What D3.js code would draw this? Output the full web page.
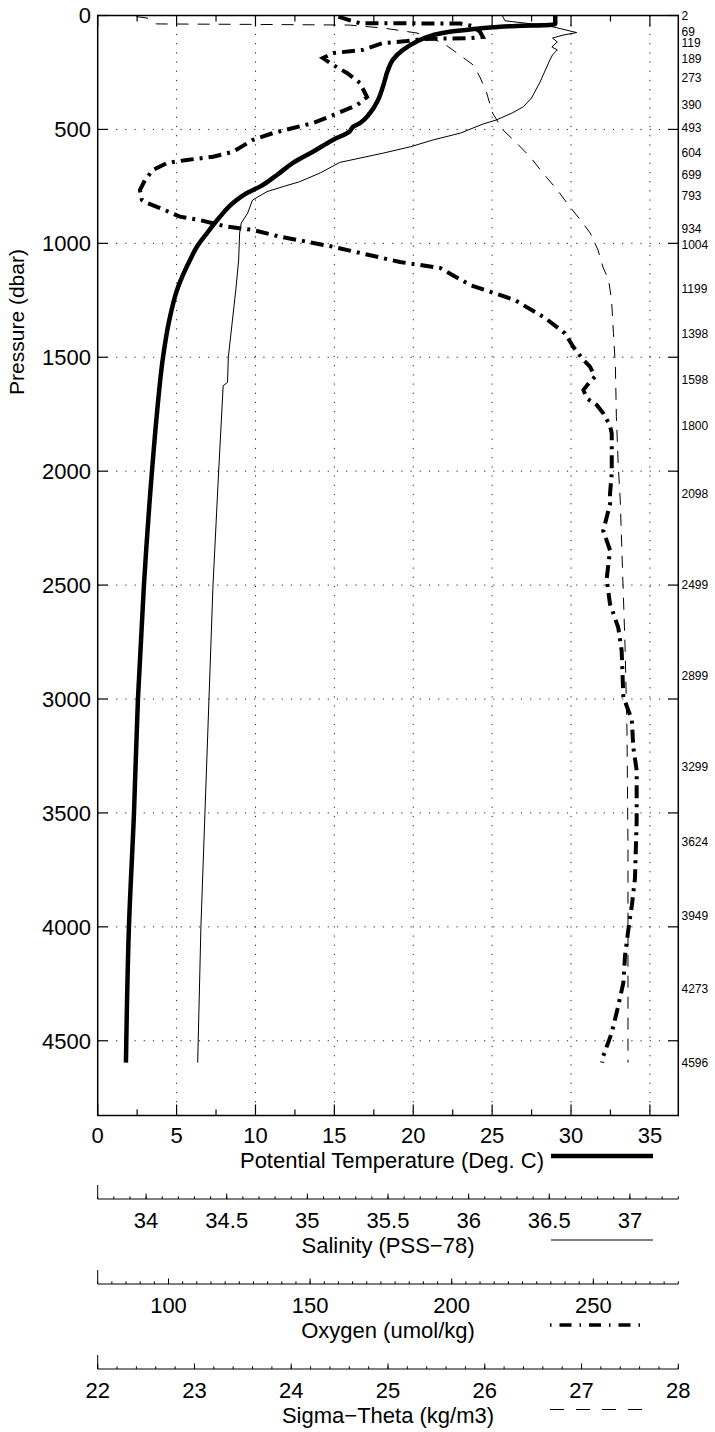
<!DOCTYPE html>
<html>
<head>
<meta charset="utf-8">
<script src="https://cdn.jsdelivr.net/npm/d3@7"></script>
<style>
body { margin: 0; background: #fff; }
text { font-family: "Liberation Sans", Arial, Helvetica, sans-serif; fill: #000; }
</style>
</head>
<body>
<div id="chart"></div>
<script>
// ---- data ----
// potential temperature (deg C) vs pressure (dbar)
var tempPres = [2, 37, 42, 46, 52, 61, 71, 86, 115, 151, 195, 239, 312, 371, 428, 472, 488, 510, 546, 598, 647, 700, 751, 779, 823, 883, 955, 1015, 1073, 1200, 1350, 1500, 1750, 2000, 2500, 3000, 3500, 4000, 4596];
var tempVals = [29.0, 29.0, 28.66, 26.55, 25.05, 23.6, 22.3, 21.25, 20.2, 19.35, 18.7, 18.4, 18.08, 17.77, 17.26, 16.62, 16.2, 15.95, 14.91, 13.64, 12.38, 11.36, 10.29, 9.46, 8.57, 7.75, 6.93, 6.29, 5.85, 5.05, 4.5, 4.14, 3.75, 3.44, 2.93, 2.55, 2.30, 1.98, 1.79];

// salinity (PSS-78)
var salPres = [2, 23, 46, 75, 86, 99, 116, 138, 151, 173, 195, 296, 362, 400, 428, 459, 476, 516, 546, 576, 604, 645, 691, 730, 751, 773, 810, 867, 911, 955, 1073, 1200, 1500, 1610, 1625, 2000, 2500, 3000, 3500, 4000, 4596];
var salVals = [36.21, 36.225, 36.50, 36.67, 36.585, 36.52, 36.55, 36.516, 36.55, 36.52, 36.504, 36.44, 36.39, 36.34, 36.27, 36.17, 36.09, 35.95, 35.78, 35.64, 35.47, 35.2, 35.08, 34.95, 34.85, 34.75, 34.66, 34.63, 34.59, 34.58, 34.574, 34.557, 34.51, 34.505, 34.478, 34.45, 34.415, 34.39, 34.365, 34.34, 34.32];

// oxygen (umol/kg)
var oxyPres = [5, 24, 34, 35, 46, 72, 94, 99, 103, 112, 121, 151, 165, 187, 217, 252, 296, 358, 393, 437, 472, 494, 516, 546, 598, 620, 634, 647, 678, 722, 766, 810, 823, 845, 883, 898, 927, 941, 971, 993, 1015, 1042, 1082, 1108, 1183, 1249, 1328, 1395, 1454, 1512, 1541, 1585, 1607, 1644, 1680, 1710, 1746, 1797, 1834, 1907, 2009, 2097, 2144, 2262, 2347, 2474, 2584, 2686, 2788, 2991, 3092, 3211, 3313, 3533, 3787, 3906, 4008, 4126, 4245, 4347, 4465, 4567, 4596];
var oxyVals = [160, 164.8, 167.6, 203, 207.2, 210, 211, 206.5, 189.9, 184.2, 175.7, 168.6, 158.1, 154.5, 158.1, 163, 167.6, 170.1, 166.6, 158.1, 151, 144, 136.9, 129.8, 122.8, 115.7, 106.5, 99.5, 94.5, 91.7, 89.9, 90.6, 92.4, 97, 104, 111.1, 120.7, 129.8, 139.4, 148.9, 158.1, 167.6, 181.7, 195.9, 206.5, 222.3, 233, 240, 242.9, 246.5, 248.8, 250.6, 248.8, 246.5, 247.7, 251.2, 253.5, 255.8, 256.5, 256.5, 256.5, 255.9, 255.9, 253.5, 255.9, 254.7, 255.9, 258.8, 260, 260.6, 263.6, 264.1, 265.3, 265.3, 264.7, 263.6, 262.4, 261.2, 260.6, 258.8, 256.5, 253.5, 253.1];

// sigma-theta (kg/m3)
var sigPres = [5, 11, 28, 37, 39, 42, 55, 77, 121, 173, 217, 270, 340, 428, 503, 560, 621, 691, 766, 840, 898, 955, 1029, 1103, 1161, 1249, 1395, 1541, 1761, 1980, 2127, 2516, 2770, 3144, 3652, 4194, 4596];
var sigVals = [22.40, 22.51, 22.57, 22.61, 23.57, 24.60, 24.95, 25.30, 25.57, 25.74, 25.88, 25.95, 26.02, 26.08, 26.19, 26.33, 26.47, 26.60, 26.75, 26.88, 26.99, 27.09, 27.17, 27.22, 27.28, 27.31, 27.33, 27.35, 27.36, 27.38, 27.40, 27.43, 27.45, 27.47, 27.48, 27.48, 27.48];

// bottle depths printed down the right side
var bottleDepths = [2, 69, 119, 189, 273, 390, 493, 604, 699, 793, 934, 1004, 1199, 1398, 1598, 1800, 2098, 2499, 2899, 3299, 3624, 3949, 4273, 4596];

// tick values
var presTicks = [0, 500, 1000, 1500, 2000, 2500, 3000, 3500, 4000, 4500];
var tempTicks = [0, 5, 10, 15, 20, 25, 30, 35];
var salTicks = [34, 34.5, 35, 35.5, 36, 36.5, 37];
var oxyTicks = [100, 150, 200, 250];
var sigTicks = [22, 23, 24, 25, 26, 27, 28];

// ---- layout ----
var W = 715, H = 1432;
var plotL = 97.7, plotR = 678.3, plotT = 15.5, plotB = 1115.5;

var svg = d3.select("#chart").append("svg")
    .attr("width", W)
    .attr("height", H);

var yScale = d3.scaleLinear().domain([0, 4828]).range([plotT, plotB]);
var xTemp = d3.scaleLinear().domain([0, 36.8]).range([plotL, plotR]);
var xSal = d3.scaleLinear().domain([33.7, 37.3]).range([plotL, plotR]);
var xOxy = d3.scaleLinear().domain([75, 280]).range([plotL, plotR]);
var xSig = d3.scaleLinear().domain([22, 28]).range([plotL, plotR]);

svg.append("clipPath").attr("id", "clip")
    .append("rect")
    .attr("x", plotL).attr("y", plotT - 2)
    .attr("width", plotR - plotL).attr("height", plotB - plotT + 2);

// dotted grid
var grid = svg.append("g").attr("stroke", "#222").attr("stroke-width", 1)
    .attr("stroke-dasharray", "1.2,8");
grid.selectAll(".gx").data(tempTicks.filter(function(d){ return d > 0; }))
    .enter().append("line")
    .attr("x1", function(d){ return xTemp(d); })
    .attr("x2", function(d){ return xTemp(d); })
    .attr("y1", plotT).attr("y2", plotB);
grid.selectAll(".gy").data(presTicks.filter(function(d){ return d > 0; }))
    .enter().append("line")
    .attr("x1", plotL).attr("x2", plotR)
    .attr("y1", function(d){ return yScale(d); })
    .attr("y2", function(d){ return yScale(d); });

// ticks on the frame (pointing inward)
var minorTemp = d3.range(2.5, 36.8, 5);
var frameTicks = svg.append("g").attr("stroke", "#000").attr("stroke-width", 1.2);
[plotB, plotT].forEach(function(yy, i) {
    var dir = i == 0 ? -1 : 1;
    frameTicks.selectAll(null).data(tempTicks).enter().append("line")
        .attr("x1", function(d){ return xTemp(d); })
        .attr("x2", function(d){ return xTemp(d); })
        .attr("y1", yy).attr("y2", yy + dir * 11);
    frameTicks.selectAll(null).data(minorTemp).enter().append("line")
        .attr("x1", function(d){ return xTemp(d); })
        .attr("x2", function(d){ return xTemp(d); })
        .attr("y1", yy).attr("y2", yy + dir * 6);
});
[plotL, plotR].forEach(function(xx, i) {
    var dir = i == 0 ? 1 : -1;
    frameTicks.selectAll(null).data(presTicks).enter().append("line")
        .attr("x1", xx).attr("x2", xx + dir * 10)
        .attr("y1", function(d){ return yScale(d); })
        .attr("y2", function(d){ return yScale(d); });
});

// profiles
function profile(pres, vals, xs, curve) {
    return d3.line()
        .curve(curve || d3.curveLinear)
        .x(function(d, i){ return xs(vals[i]); })
        .y(function(d){ return yScale(d); })(pres);
}

var lines = svg.append("g").attr("clip-path", "url(#clip)").attr("fill", "none");

lines.append("path")
    .attr("d", profile(sigPres, sigVals, xSig))
    .attr("stroke", "#000").attr("stroke-width", 1)
    .attr("stroke-dasharray", "12,9");

lines.append("path")
    .attr("d", profile(salPres, salVals, xSal))
    .attr("stroke", "#000").attr("stroke-width", 1);

lines.append("path")
    .attr("d", profile(oxyPres, oxyVals, xOxy))
    .attr("stroke", "#000").attr("stroke-width", 4)
    .attr("stroke-dasharray", "13,6,3,6");

lines.append("path")
    .attr("d", profile(tempPres, tempVals, xTemp, d3.curveMonotoneY))
    .attr("stroke", "#000").attr("stroke-width", 4.5)
    .attr("stroke-linejoin", "round");

// frame
svg.append("rect")
    .attr("x", plotL).attr("y", plotT)
    .attr("width", plotR - plotL).attr("height", plotB - plotT)
    .attr("fill", "none").attr("stroke", "#000").attr("stroke-width", 1.5);

// pressure labels
svg.selectAll(".ylab").data(presTicks).enter().append("text")
    .attr("x", 91).attr("y", function(d){ return yScale(d); })
    .attr("dy", "0.36em")
    .attr("text-anchor", "end")
    .attr("font-size", 22)
    .text(function(d){ return d; });

svg.append("text")
    .attr("transform", "translate(24,322) rotate(-90)")
    .attr("text-anchor", "middle")
    .attr("font-size", 21)
    .text("Pressure (dbar)");

// bottle depth labels
svg.selectAll(".blab").data(bottleDepths).enter().append("text")
    .attr("x", 681.5).attr("y", function(d){ return yScale(d); })
    .attr("dy", "0.36em")
    .attr("font-size", 12)
    .text(function(d){ return d; });

// temperature tick labels + title
svg.selectAll(".tlab").data(tempTicks).enter().append("text")
    .attr("x", function(d){ return xTemp(d); }).attr("y", 1143)
    .attr("text-anchor", "middle").attr("font-size", 22)
    .text(function(d){ return d; });
svg.append("text").attr("x", 392).attr("y", 1168)
    .attr("text-anchor", "middle").attr("font-size", 22)
    .text("Potential Temperature (Deg. C)");
svg.append("line")
    .attr("x1", 551).attr("x2", 653).attr("y1", 1156).attr("y2", 1156)
    .attr("stroke", "#000").attr("stroke-width", 4.5);

// secondary axes below the plot
function lowerAxis(scale, ticks, minorStep, axisY, title, fmt) {
    var g = svg.append("g").attr("stroke", "#000").attr("stroke-width", 1);
    var dom = scale.domain();
    g.append("line").attr("x1", plotL).attr("x2", plotR)
        .attr("y1", axisY).attr("y2", axisY);
    g.append("line").attr("x1", plotL).attr("x2", plotL)
        .attr("y1", axisY).attr("y2", axisY - 14);
    var minors = d3.range(Math.ceil(dom[0] / minorStep) * minorStep, dom[1] + 1e-9, minorStep);
    g.selectAll(null).data(minors).enter().append("line")
        .attr("x1", function(d){ return scale(d); })
        .attr("x2", function(d){ return scale(d); })
        .attr("y1", axisY).attr("y2", axisY - 2.7);
    g.selectAll(null).data(ticks).enter().append("line")
        .attr("x1", function(d){ return scale(d); })
        .attr("x2", function(d){ return scale(d); })
        .attr("y1", axisY).attr("y2", axisY - 5.5);
    svg.selectAll(null).data(ticks).enter().append("text")
        .attr("x", function(d){ return scale(d); }).attr("y", axisY + 29)
        .attr("text-anchor", "middle").attr("font-size", 22)
        .text(fmt);
    svg.append("text").attr("x", 388).attr("y", axisY + 54)
        .attr("text-anchor", "middle").attr("font-size", 22)
        .text(title);
}

lowerAxis(xSal, salTicks, 0.1, 1199, "Salinity (PSS\u221278)", function(d){ return d; });
lowerAxis(xOxy, oxyTicks, 5, 1284, "Oxygen (umol/kg)", function(d){ return d; });
lowerAxis(xSig, sigTicks, 0.2, 1369, "Sigma\u2212Theta (kg/m3)", function(d){ return d; });

// legend samples
svg.append("line")
    .attr("x1", 551).attr("x2", 653).attr("y1", 1240).attr("y2", 1240)
    .attr("stroke", "#000").attr("stroke-width", 1);
svg.append("line")
    .attr("x1", 550).attr("x2", 648).attr("y1", 1325).attr("y2", 1325)
    .attr("stroke", "#000").attr("stroke-width", 3.5)
    .attr("stroke-dasharray", "1.5,8,12,8");
svg.append("line")
    .attr("x1", 550).attr("x2", 644).attr("y1", 1409.5).attr("y2", 1409.5)
    .attr("stroke", "#000").attr("stroke-width", 1)
    .attr("stroke-dasharray", "14,12");
</script>
</body>
</html>
